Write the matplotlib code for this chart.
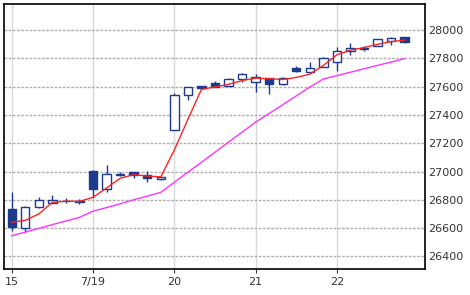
import numpy as np
import matplotlib
matplotlib.use("Agg")
import matplotlib.pyplot as plt

# candle data, 6 bars per day
opens = [26735, 26599, 26751, 26781, 26795, 26785, 27004, 26876, 26985, 26994,
         26975, 26945, 27293, 27541, 27604, 27623, 27604, 27652, 27630, 27659,
         27618, 27729, 27705, 27741, 27776, 27854, 27865, 27889, 27922, 27948]
highs = [26858, 26755, 26818, 26834, 26815, 26808, 27010, 27044, 26999, 26999,
         27004, 26962, 27553, 27597, 27606, 27640, 27661, 27698, 27690, 27662,
         27670, 27748, 27776, 27808, 27882, 27910, 27887, 27936, 27953, 27950]
lows = [26582, 26570, 26744, 26781, 26780, 26768, 26815, 26857, 26968, 26956,
        26928, 26943, 27290, 27505, 27588, 27598, 27602, 27635, 27565, 27550,
        27615, 27701, 27698, 27738, 27710, 27823, 27854, 27886, 27894, 27906]
closes = [26608, 26751, 26800, 26798, 26790, 26790, 26876, 26982, 26978, 26972,
          26952, 26960, 27541, 27595, 27590, 27600, 27652, 27689, 27665, 27618,
          27663, 27710, 27734, 27804, 27854, 27875, 27870, 27934, 27946, 27913]

# short moving average (red) and long moving average (magenta)
ma_short = [26641, 26655, 26700, 26782, 26790, 26789, 26818, 26884, 26952, 26978,
            26968, 26962, 27152, 27368, 27580, 27598, 27616, 27643, 27660, 27656,
            27650, 27665, 27688, 27750, 27825, 27858, 27876, 27899, 27918, 27929]
ma_long = [26546, 26572, 26598, 26625, 26650, 26676, 26720, 26745, 26772, 26800,
           26826, 26853, 26924, 26995, 27065, 27136, 27208, 27278, 27349, 27410,
           27472, 27534, 27597, 27654, 27678, 27702, 27726, 27750, 27774, 27798]

tick_pos = [0, 6, 12, 18, 24]
tick_labels = ["15", "7/19", "20", "21", "22"]
y_ticks = [26400, 26600, 26800, 27000, 27200, 27400, 27600, 27800, 28000]

navy = "#1d3b8e"

fig = plt.figure(figsize=(4.7, 2.95), dpi=100)
ax = fig.add_axes([4 / 470, 1 - 269 / 295, 421 / 470, 265 / 295])

x = np.arange(len(opens))
o = np.array(opens)
c = np.array(closes)
up = c >= o

# wicks
ax.vlines(x, lows, highs, color=navy, linewidth=1, zorder=3)
# bodies
bottoms = np.minimum(o, c)
heights = np.maximum(np.abs(c - o), 4)
ax.bar(x[up], heights[up], bottom=bottoms[up], width=0.62,
       facecolor="white", edgecolor=navy, linewidth=1, zorder=4)
ax.bar(x[~up], heights[~up], bottom=bottoms[~up], width=0.62,
       facecolor=navy, edgecolor=navy, linewidth=1, zorder=4)

ax.plot(x, ma_long, color="#ff33ff", linewidth=1, zorder=5)
ax.plot(x, ma_short, color="#ff2222", linewidth=1, zorder=5)

ax.set_xlim(-0.57, 30.5)
ax.set_ylim(26311, 28184)

ax.set_xticks(tick_pos)
ax.set_xticklabels(tick_labels)
ax.set_yticks(y_ticks)
ax.yaxis.tick_right()
ax.tick_params(axis="y", length=0, pad=2.5, labelsize=8, labelcolor="#333333")
ax.tick_params(axis="x", length=3, pad=2.5, labelsize=8, labelcolor="#333333",
               color="#333333")

for t in tick_pos:
    ax.axvline(t, color="#d8d8d8", linewidth=1, zorder=1)
for v in y_ticks:
    ax.axhline(v, color="#b0b0b0", linewidth=1, linestyle=(0, (2, 1)), zorder=1)

for s in ax.spines.values():
    s.set_color("black")
    s.set_linewidth(1.2)

fig.savefig("out.png", dpi=100)
